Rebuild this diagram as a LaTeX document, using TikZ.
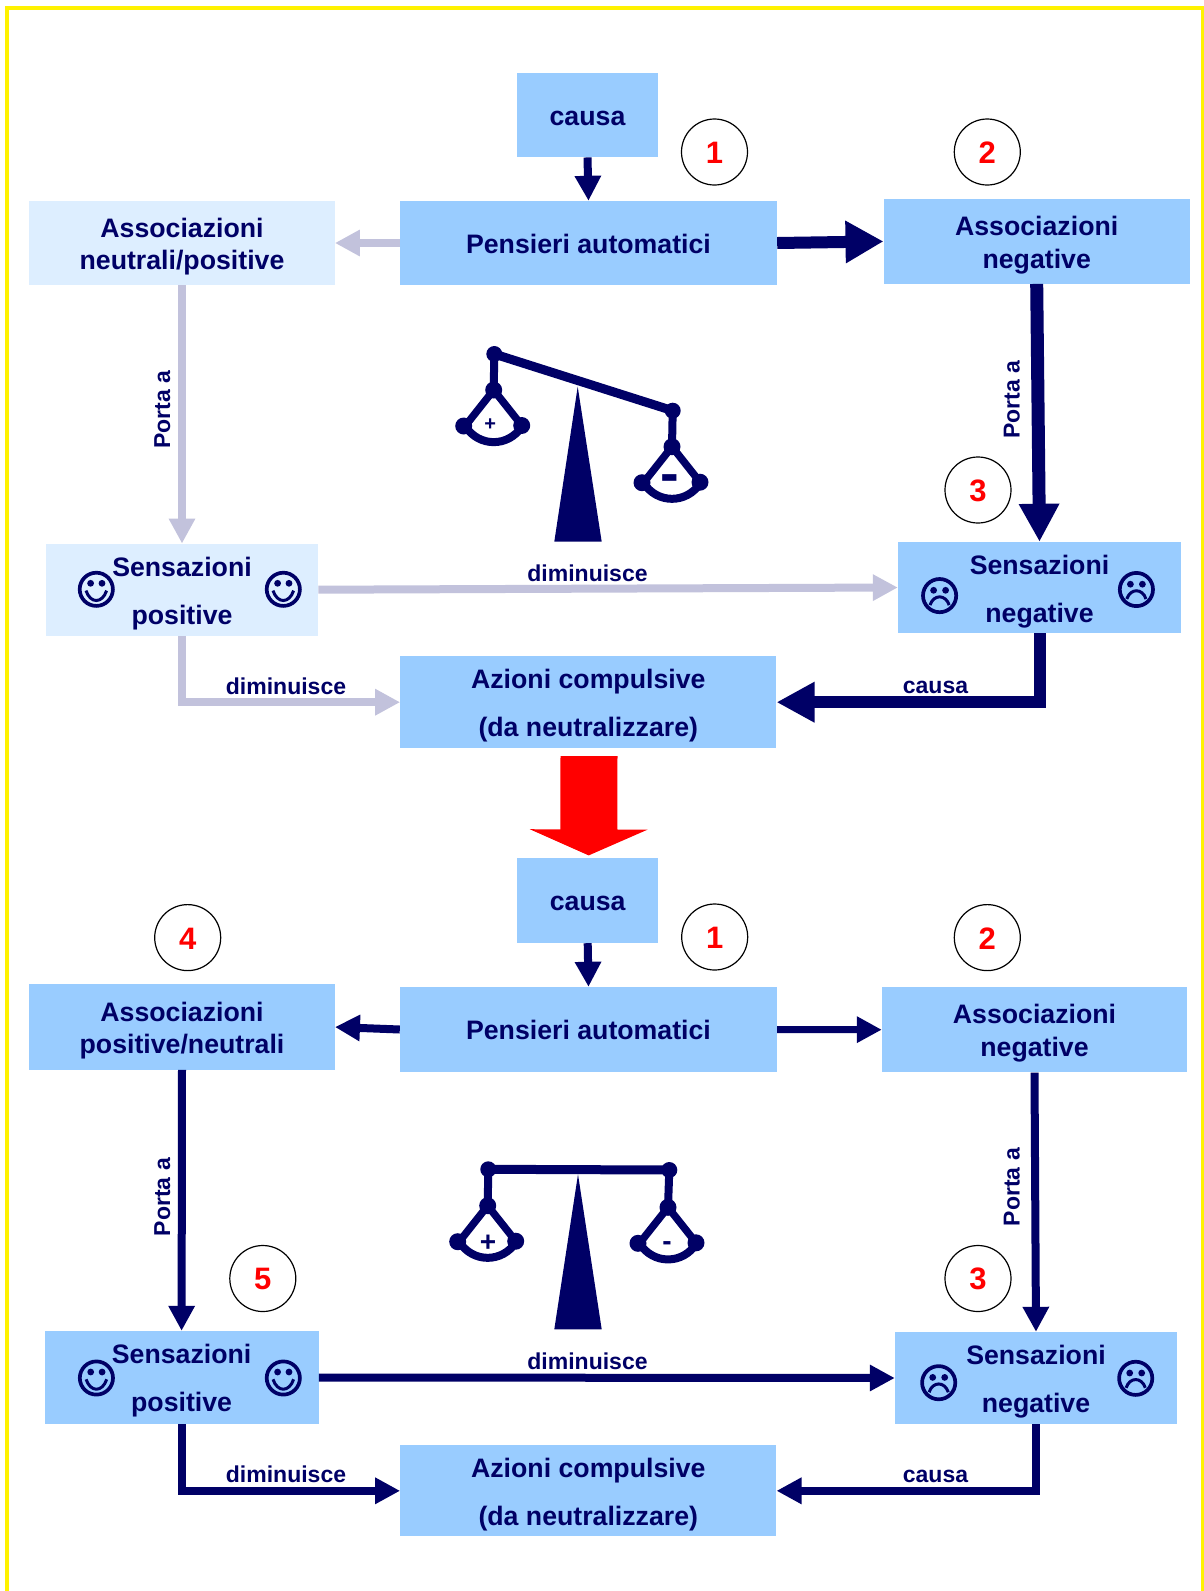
\documentclass[tikz,border=0pt]{standalone}
\usepackage{fontspec}
\setmainfont{Liberation Sans}
\usetikzlibrary{arrows.meta,shapes.geometric}
\definecolor{navy}{HTML}{000066}
\definecolor{bluebox}{HTML}{99CCFF}
\definecolor{lightbox}{HTML}{DDEEFF}
\definecolor{fade}{HTML}{C2C2DC}
\newcommand\dn[1]{\rule{0pt}{#1pt}}
\tikzset{
  boxn/.style={rectangle,fill=bluebox,text=navy,inner sep=0pt,align=center,font=\fontsize{26.7}{32.5}\selectfont\bfseries},
  boxw/.style={boxn,font=\fontsize{26.7}{48}\selectfont\bfseries},
  lite/.style={fill=lightbox},
  lab/.style={text=navy,inner sep=0pt,font=\fontsize{23}{26}\selectfont\bfseries},
  num/.style={circle,draw=black,line width=1.2pt,minimum size=66pt,inner sep=0pt,text=red,font=\fontsize{31}{34}\selectfont\bfseries,execute at begin node={\rule{0pt}{23pt}}},
  ar/.style n args={3}{draw=navy,line width=#1pt,-{Triangle[length=#2pt,width=#3pt]}},
  af/.style n args={3}{draw=fade,line width=#1pt,-{Triangle[length=#2pt,width=#3pt]}},
  smile/.pic={
    \draw[navy,line width=3.7pt] (0,0) circle (16.6pt);
    \fill[navy] (-5.7,-6) circle (3.4pt) (5.7,-6) circle (3.4pt);
    \draw[navy,line width=3pt] (-10.3,1.3) .. controls (-6,14.5) and (6,14.5) .. (10.3,1.3);
  },
  frown/.pic={
    \draw[navy,line width=3.7pt] (0,0) circle (16.6pt);
    \fill[navy] (-6,-5.3) circle (3.4pt) (6,-5.3) circle (3.4pt);
    \draw[navy,line width=3pt] (-9.6,9.5) .. controls (-6,-1.5) and (6,-1.5) .. (9.6,9.5);
  },
  pan/.pic={
    \draw[navy,line width=7.5pt,line join=round] (-28.5,36) -- (0,0) -- (28.5,36);
    \draw[navy,line width=8pt] (-28.5,36) .. controls (-15,57.5) and (15,57.5) .. (28.5,36);
    \fill[navy] (0,0) circle (8.5pt) (-30,36) circle (8.5pt) (28,35.5) circle (8.5pt);
  }
}
\begin{document}
\begin{tikzpicture}[x=1pt,y=-1pt]
\useasboundingbox (0,0) rectangle (1204,1591);
\fill[white] (0,0) rectangle (1204,1591);
\draw[yellow,line width=4.4pt,line join=miter] (7,1600) -- (7,8) -- (1203,8) -- (1203,1600);

% upper diagram
\node[boxn,minimum width=141pt,minimum height=84.5pt] (causaA) at (587.5,115) {\dn{20.5}causa};
\node[boxn,minimum width=377pt,minimum height=84pt] (pensA) at (588.5,243) {\dn{21.5}Pensieri automatici};
\node[boxn,lite,minimum width=305.5pt,minimum height=84pt] (neutA) at (182,243) {\dn{26.5}Associazioni\\neutrali/positive};
\node[boxn,minimum width=306pt,minimum height=84.7pt] (negA) at (1036.7,241.4) {\dn{26.5}Associazioni\\negative};
\node[boxw,lite,minimum width=272.5pt,minimum height=92pt] (posS) at (182,589.7) {\dn{26.5}Sensazioni\\positive};
\node[boxw,minimum width=283pt,minimum height=91pt] (negS) at (1039.5,587.5) {\dn{27.5}Sensazioni\\negative};
\node[boxw,minimum width=376pt,minimum height=91.5pt] (azA) at (588.3,702.2) {\dn{26.5}Azioni compulsive\\(da neutralizzare)};

% lower diagram
\node[boxn,minimum width=141.3pt,minimum height=85.4pt] (causaB) at (587.7,900.3) {\dn{20.5}causa};
\node[boxn,minimum width=377pt,minimum height=85pt] (pensB) at (588.5,1029.5) {\dn{20.5}Pensieri automatici};
\node[boxn,minimum width=305.5pt,minimum height=85.5pt] (posB) at (182,1027) {\dn{26.5}Associazioni\\positive/neutrali};
\node[boxn,minimum width=305pt,minimum height=85.5pt] (negB) at (1034.5,1029.7) {\dn{26.5}Associazioni\\negative};
\node[boxw,minimum width=274pt,minimum height=93pt] (posT) at (181.6,1377.5) {\dn{26.5}Sensazioni\\positive};
\node[boxw,minimum width=282pt,minimum height=92pt] (negT) at (1036,1378) {\dn{26.5}Sensazioni\\negative};
\node[boxw,minimum width=376pt,minimum height=91pt] (azB) at (588.3,1490.8) {\dn{26.5}Azioni compulsive\\(da neutralizzare)};

% numbered circles
\node[num] (n1a) at (714.5,152) {1};
\node[num] (n2a) at (987.3,152) {2};
\node[num] (n3a) at (978,490) {3};
\node[num] (n1b) at (714.7,937) {1};
\node[num] (n2b) at (987.3,937.6) {2};
\node[num] (n4) at (187.7,937.6) {4};
\node[num] (n5) at (262.8,1278.5) {5};
\node[num] (n3b) at (978,1278.5) {3};

% connectors, upper
\draw[ar={8}{25}{25}] (causaA.south) -- (pensA.north);
\draw[af={8}{25}{25}] (pensA.west) -- (neutA.east);
\draw[ar={12}{38}{40}] (pensA.east) -- (negA.west);
\draw[af={8}{25}{25}] (neutA.south) -- (posS.north);
\draw[ar={13}{38}{38}] (negA.south) -- (negS.north);
\draw[af={8}{25}{25}] (posS.east) -- (negS.west);
\draw[af={8}{25}{25}] (posS.south) |- (azA.west);
\draw[ar={12}{38}{38}] (negS.south) |- (azA.east);
\draw[red,line width=57pt,-{Triangle[length=26pt,width=117pt]}] ([xshift=0.7pt,yshift=-8pt]azA.south) -- ([xshift=1pt,yshift=2pt]causaB.north);

% connectors, lower
\draw[ar={8}{25}{25}] (causaB.south) -- (pensB.north);
\draw[ar={8}{25}{25}] (pensB.west) -- (posB.east);
\draw[ar={7}{25}{25}] (pensB.east) -- (negB.west);
\draw[ar={8}{25}{25}] (posB.south) -- (posT.north);
\draw[ar={8}{25}{25}] (negB.south) -- (negT.north);
\draw[ar={8}{25}{25}] (posT.east) -- (negT.west);
\draw[ar={8}{25}{25}] (posT.south) |- (azB.west);
\draw[ar={8}{25}{25}] (negT.south) |- (azB.east);

% connector labels
\node[lab,rotate=90] (l1) at (162.4,410) {Porta a};
\node[lab,rotate=90] (l2) at (1011.7,400) {Porta a};
\node[lab,rotate=90] (l3) at (162.4,1197) {Porta a};
\node[lab,rotate=90] (l4) at (1011.7,1187) {Porta a};
\node[lab] (l5) at (587.5,573.3) {diminuisce};
\node[lab] (l6) at (286,686) {diminuisce};
\node[lab] (l7) at (587.5,1361) {diminuisce};
\node[lab] (l8) at (286,1474) {diminuisce};
\node[lab] (l9) at (935.5,687) {causa};
\node[lab] (l10) at (935.5,1476) {causa};

% faces
\pic at (96.3,589.3) {smile};
\pic at (283.3,589.3) {smile};
\pic at (939.6,595.6) {frown};
\pic at (1136.4,589.5) {frown};
\pic at (96.4,1378) {smile};
\pic at (283.3,1378) {smile};
\pic at (938.7,1382.7) {frown};
\pic at (1135.7,1378.3) {frown};

% tilted balance
\fill[navy] (577.7,386.7) -- (601.7,541.7) -- (554.3,541.7) -- cycle;
\draw[navy,line width=9pt] (494.3,354) -- (672.7,410.7);
\draw[navy,line width=8pt] (494.3,354) -- (493.7,390);
\draw[navy,line width=8pt] (672.7,410.7) -- (672,446.7);
\fill[navy] (494.3,354) circle (8pt) (672.7,410.7) circle (8pt);
\pic at (493.7,390) {pan};
\pic at (672,446.7) {pan};
\node[text=navy,inner sep=0pt,font=\fontsize{20}{22}\selectfont\bfseries] (plusA) at (490.3,425) {+};
\node[text=navy,inner sep=0pt,font=\fontsize{56}{60}\selectfont\bfseries] (minusA) at (670,484) {-};

% level balance
\fill[navy] (578,1174.3) -- (601.7,1329.3) -- (554.3,1329.3) -- cycle;
\draw[navy,line width=9pt] (488.3,1169.3) -- (669.3,1170);
\draw[navy,line width=8pt] (488.3,1169.3) -- (487.7,1205.7);
\draw[navy,line width=8pt] (669.3,1170) -- (668,1207.3);
\fill[navy] (488.3,1169.3) circle (8pt) (669.3,1170) circle (8pt);
\pic at (487.7,1205.7) {pan};
\pic at (668,1207.3) {pan};
\node[text=navy,inner sep=0pt,font=\fontsize{28}{30}\selectfont\bfseries] (plusB) at (488,1243) {+};
\node[text=navy,inner sep=0pt,font=\fontsize{28}{30}\selectfont\bfseries] (minusB) at (667,1246) {-};
\end{tikzpicture}
\end{document}
